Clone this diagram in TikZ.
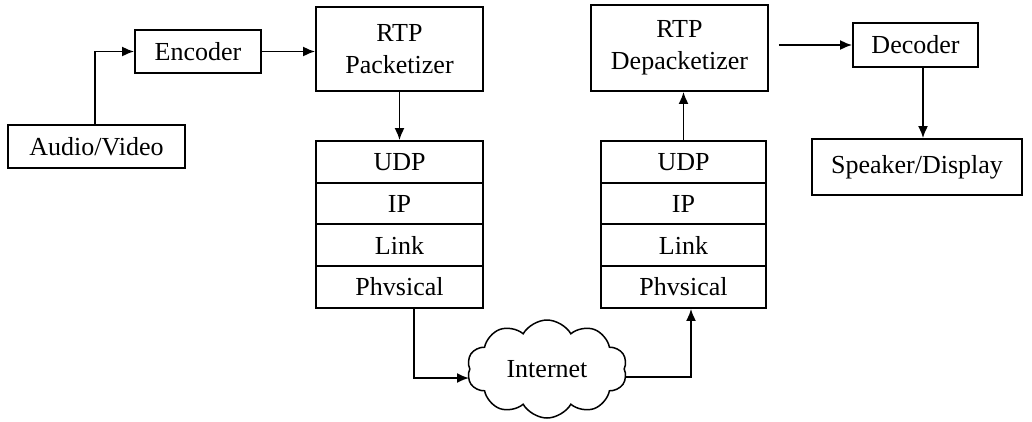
\documentclass[tikz,border=0pt]{standalone}
\usepackage{fontspec}
\setmainfont{Liberation Serif}
\usetikzlibrary{arrows.meta,shapes.symbols}
\begin{document}
\begin{tikzpicture}[x=1pt,y=-1pt,
  box/.style={draw, line width=1.8pt, rectangle, inner sep=0pt, align=center,
    font=\fontsize{26}{32}\selectfont},
  layer/.style={box, minimum height=42pt},
  arr/.style={line width=1.8pt, -{Latex[length=12pt,width=10pt]}}
]
\useasboundingbox (0,0) rectangle (1032,421);
\node[box, minimum width=177pt, minimum height=43pt] (av) at (96.5,146.5) {Audio/Video};
\node[box, minimum width=126pt, minimum height=43pt] (enc) at (198,51.5) {Encoder};
\node[box, minimum width=167pt, minimum height=84pt] (pack) at (399.5,49) {RTP\\Packetizer};
\node[layer, minimum width=167pt] (udpL) at (399.5,162) {UDP};
\node[layer, minimum width=167pt] (ipL) at (399.5,203.5) {IP};
\node[layer, minimum width=167pt] (linkL) at (399.5,245) {Link};
\node[layer, minimum width=167pt] (phyL) at (399.5,287) {Phvsical};
\node[box, minimum width=177pt, minimum height=86pt] (depack) at (679.5,48) {RTP\\Depacketizer};
\node[layer, minimum width=165pt] (udpR) at (683.5,162) {UDP};
\node[layer, minimum width=165pt] (ipR) at (683.5,203.5) {IP};
\node[layer, minimum width=165pt] (linkR) at (683.5,245) {Link};
\node[layer, minimum width=165pt] (phyR) at (683.5,287) {Phvsical};
\node[box, minimum width=125pt, minimum height=44pt] (dec) at (915.5,45) {Decoder};
\node[box, minimum width=210pt, minimum height=56pt] (spk) at (917,167) {Speaker/Display};
\node[draw, line width=1.5pt, shape=cloud, cloud puffs=10, cloud puff arc=120, aspect=1.6,
  inner sep=0pt, minimum width=160pt, minimum height=98pt,
  font=\fontsize{26}{32}\selectfont] (cloud) at (547,369) {Internet};

\draw[arr] ([xshift=-1.5pt]av.north) |- (enc.west);
\draw[arr] (enc.east) -- (enc.east -| pack.west);
\draw[arr] (pack.south) -- (udpL.north);
\draw[arr] (udpR.north) -- (udpR.north |- depack.south);
\draw[arr, shorten <=10pt] (dec.west -| depack.east) -- (dec.west);
\draw[arr] ([xshift=7.5pt]dec.south) -- ([xshift=7.5pt]dec.south |- spk.north);
\draw[arr] ([xshift=14.5pt]phyL.south) |- ([yshift=-9pt]cloud.west);
\draw[arr] ([yshift=-8pt]cloud.east) -| ([xshift=7.5pt]phyR.south);
\end{tikzpicture}
\end{document}
